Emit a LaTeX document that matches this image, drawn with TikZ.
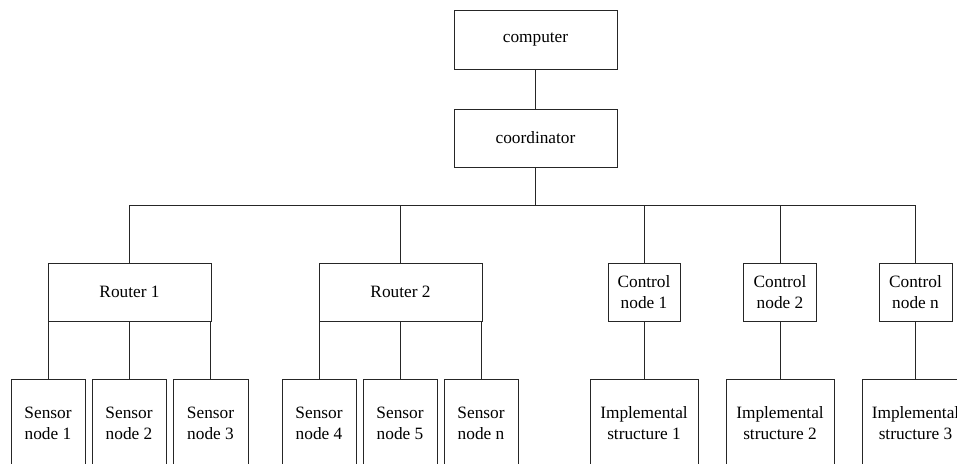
\documentclass[tikz,border=0pt]{standalone}
\usepackage{fontspec}
\setmainfont{Liberation Serif}
\begin{document}
\begin{tikzpicture}[x=1pt,y=-1pt,
  box/.style={draw=black!85,line width=0.8pt,inner sep=0pt,align=center,
    font=\fontsize{17.3}{21}\selectfont,minimum height=58pt},
  link/.style={draw=black!85,line width=0.8pt}]
\clip (0,0) rectangle (957,463);
\fill[white] (0,0) rectangle (957,463);

% top of the hierarchy
\node[box,minimum width=163pt,minimum height=59pt] (comp) at (535.5,39.5) {computer};
\node[box,minimum width=163pt] (coord) at (535.5,138) {coordinator};

% second level
\node[box,minimum width=163pt] (r1) at (129.5,292) {Router 1};
\node[box,minimum width=163pt] (r2) at (400.5,292) {Router 2};
\node[box,minimum width=72pt] (cn1) at (644,292) {Control\\node 1};
\node[box,minimum width=73pt] (cn2) at (780,292) {Control\\node 2};
\node[box,minimum width=73pt] (cnn) at (915.5,292) {Control\\node n};

% leaves (run past the lower edge)
\tikzset{leaf/.style={box,minimum height=88pt}}
\node[leaf,minimum width=74pt] (s1) at (48,423) {Sensor\\node 1};
\node[leaf,minimum width=74pt] (s2) at (129,423) {Sensor\\node 2};
\node[leaf,minimum width=75pt] (s3) at (210.5,423) {Sensor\\node 3};
\node[leaf,minimum width=74pt] (s4) at (319,423) {Sensor\\node 4};
\node[leaf,minimum width=74pt] (s5) at (400,423) {Sensor\\node 5};
\node[leaf,minimum width=74pt] (sn) at (481,423) {Sensor\\node n};
\node[leaf,minimum width=108pt] (is1) at (644,423) {Implemental\\structure 1};
\node[leaf,minimum width=108pt] (is2) at (780,423) {Implemental\\structure 2};
\node[leaf,minimum width=107pt] (is3) at (915.5,423) {Implemental\\structure 3};

% connectors
\coordinate (bus) at (535.5,205);
\draw[link] (comp.south) -- (coord.north);
\draw[link] (coord.south) -- (bus);
\foreach \n in {r1,r2,cn1,cn2,cnn}
  \draw[link] (bus) -| (\n.north);
\foreach \n in {s1,s2,s3}
  \draw[link] (\n.north) -- (\n.north |- r1.south);
\foreach \n in {s4,s5,sn}
  \draw[link] (\n.north) -- (\n.north |- r2.south);
\draw[link] (cn1.south) -- (is1.north);
\draw[link] (cn2.south) -- (is2.north);
\draw[link] (cnn.south) -- (is3.north);
\end{tikzpicture}
\end{document}
